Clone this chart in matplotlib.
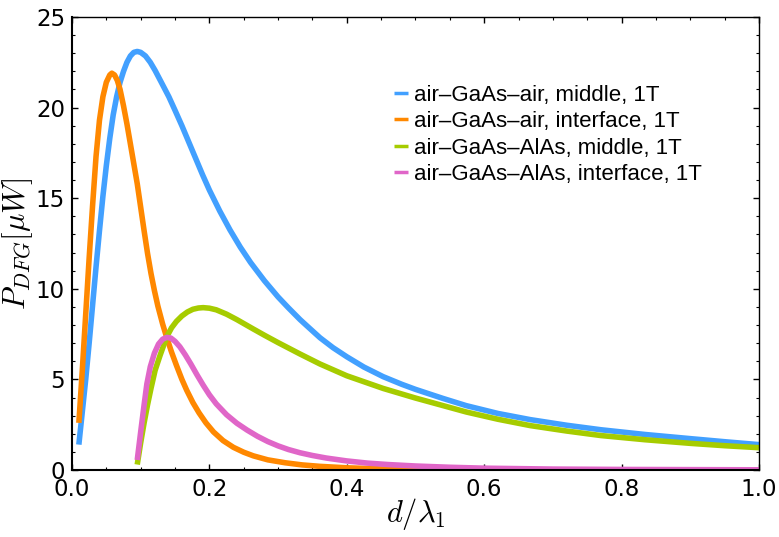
import matplotlib.pyplot as plt
from matplotlib.ticker import MultipleLocator

plt.rcParams['font.family'] = ['DejaVu Sans']
plt.rcParams['mathtext.fontset'] = 'cm'

# air-GaAs-air, middle
x_blue = [0.010, 0.015, 0.020, 0.025, 0.030, 0.035, 0.040, 0.045, 0.050, 0.055, 0.060,
          0.065, 0.070, 0.075, 0.080, 0.085, 0.090, 0.095, 0.100, 0.107, 0.114, 0.121,
          0.130, 0.141, 0.150, 0.160, 0.170, 0.180, 0.190, 0.200, 0.215, 0.230, 0.245,
          0.260, 0.280, 0.300, 0.315, 0.332, 0.345, 0.361, 0.380, 0.400, 0.425, 0.453,
          0.480, 0.500, 0.540, 0.574, 0.620, 0.667, 0.720, 0.770, 0.834, 0.900, 0.950,
          1.000]
y_blue = [1.4, 3.2, 5.0, 7.0, 9.1, 11.2, 13.2, 15.1, 16.8, 18.3, 19.6,
          20.6, 21.4, 22.0, 22.5, 22.85, 23.05, 23.1, 23.05, 22.85, 22.5, 22.05,
          21.4, 20.6, 19.85, 19.0, 18.1, 17.2, 16.3, 15.45, 14.3, 13.25, 12.3,
          11.45, 10.45, 9.55, 8.95, 8.3, 7.85, 7.3, 6.75, 6.25, 5.68, 5.15,
          4.73, 4.45, 3.95, 3.55, 3.12, 2.78, 2.47, 2.22, 1.96, 1.73, 1.56,
          1.4]

# air-GaAs-air, interface
x_orange = [0.010, 0.015, 0.020, 0.025, 0.030, 0.035, 0.040, 0.045, 0.050, 0.055, 0.058,
            0.062, 0.066, 0.070, 0.075, 0.080, 0.085, 0.090, 0.095, 0.100, 0.105, 0.110,
            0.115, 0.120, 0.125, 0.132, 0.138, 0.145, 0.152, 0.160, 0.167, 0.176, 0.185,
            0.195, 0.206, 0.220, 0.235, 0.250, 0.264, 0.285, 0.310, 0.335, 0.361, 0.400,
            0.450, 0.500, 0.600, 0.700, 1.000]
y_orange = [2.6, 5.5, 8.6, 11.7, 14.6, 17.3, 19.3, 20.6, 21.4, 21.8, 21.9,
            21.8, 21.5, 21.0, 20.1, 19.1, 18.0, 16.9, 15.8, 14.5, 13.2, 11.95,
            10.85, 9.9, 9.05, 8.05, 7.3, 6.5, 5.78, 5.0, 4.4, 3.72, 3.15,
            2.6, 2.1, 1.62, 1.25, 0.98, 0.78, 0.56, 0.4, 0.28, 0.2, 0.12,
            0.06, 0.03, 0.01, 0.0, 0.0]

# air-GaAs-AlAs, middle
x_green = [0.095, 0.100, 0.105, 0.110, 0.115, 0.121, 0.128, 0.138, 0.145, 0.152, 0.160,
           0.168, 0.176, 0.184, 0.191, 0.200, 0.210, 0.225, 0.240, 0.252, 0.264, 0.280,
           0.300, 0.332, 0.361, 0.400, 0.453, 0.500, 0.574, 0.620, 0.667, 0.720, 0.770,
           0.834, 0.900, 0.950, 1.000]
y_green = [0.3, 1.5, 2.6, 3.6, 4.5, 5.5, 6.3, 7.36, 7.85, 8.2, 8.5,
           8.72, 8.87, 8.94, 8.96, 8.93, 8.84, 8.6, 8.3, 8.04, 7.78, 7.44,
           7.03, 6.4, 5.85, 5.2, 4.5, 3.97, 3.2, 2.8, 2.45, 2.15, 1.9,
           1.67, 1.47, 1.34, 1.23]

# air-GaAs-AlAs, interface
x_pink = [0.095, 0.100, 0.105, 0.109, 0.114, 0.120, 0.126, 0.132, 0.138, 0.144, 0.150,
          0.157, 0.165, 0.173, 0.182, 0.191, 0.200, 0.210, 0.225, 0.240, 0.255, 0.270,
          0.285, 0.300, 0.315, 0.332, 0.350, 0.370, 0.400, 0.430, 0.460, 0.500, 0.550,
          0.600, 0.700, 0.800, 0.900, 1.000]
y_pink = [0.55, 2.1, 3.6, 4.75, 5.7, 6.45, 6.95, 7.22, 7.32, 7.28, 7.1,
          6.8, 6.35, 5.85, 5.25, 4.68, 4.15, 3.65, 3.05, 2.58, 2.2, 1.86,
          1.57, 1.33, 1.13, 0.95, 0.8, 0.66, 0.5, 0.38, 0.3, 0.22, 0.15,
          0.1, 0.05, 0.03, 0.02, 0.01]

labels = ['air–GaAs–air, middle, 1T', 'air–GaAs–air, interface, 1T',
          'air–GaAs–AlAs, middle, 1T', 'air–GaAs–AlAs, interface, 1T']
colors = ['#42a0ff', '#ff8800', '#a6cc00', '#e066c8']

fig = plt.figure(figsize=(7.79, 5.37), dpi=100)
ax = fig.add_axes([0.0924, 0.1248, 0.8819, 0.8435])

series = [(x_blue, y_blue), (x_orange, y_orange), (x_green, y_green), (x_pink, y_pink)]
for (xs, ys), c, lab in zip(series, colors, labels):
    ax.plot(xs, ys, color=c, lw=4.0, label=lab, solid_capstyle='butt',
            solid_joinstyle='round')

ax.set_xlim(0, 1.0)
ax.set_ylim(0, 25)
ax.xaxis.set_major_locator(MultipleLocator(0.2))
ax.xaxis.set_minor_locator(MultipleLocator(0.05))
ax.yaxis.set_major_locator(MultipleLocator(5))
ax.yaxis.set_minor_locator(MultipleLocator(1))
ax.xaxis.set_major_formatter(plt.FuncFormatter(lambda v, p: f'{v:.1f}'))

ax.tick_params(which='both', direction='in', top=True, right=True, labelsize=16.5)
ax.tick_params(axis='x', pad=6)
ax.tick_params(axis='y', pad=5)
ax.tick_params(which='major', length=4.5, width=1.0)
ax.tick_params(which='minor', length=2.5, width=0.8)
for side in ['left', 'bottom']:
    ax.spines[side].set_linewidth(1.5)
for side in ['top', 'right']:
    ax.spines[side].set_linewidth(1.0)

ax.set_xlabel(r'$d/\lambda_1$', fontsize=22)
ax.xaxis.set_label_coords(0.5, -0.058)
ax.set_ylabel(r'$P_{DFG}[\mu W]$', fontsize=22)
ax.yaxis.set_label_coords(-0.054, 0.5)

leg = ax.legend(loc='upper left', bbox_to_anchor=(0.44, 0.895), frameon=False,
                handlelength=0.6, handletextpad=0.3, labelspacing=0.25,
                prop={'family': 'Liberation Sans', 'size': 16})
for h in leg.get_lines():
    h.set_linewidth(2.5)

fig.savefig('out.png', dpi=100)
